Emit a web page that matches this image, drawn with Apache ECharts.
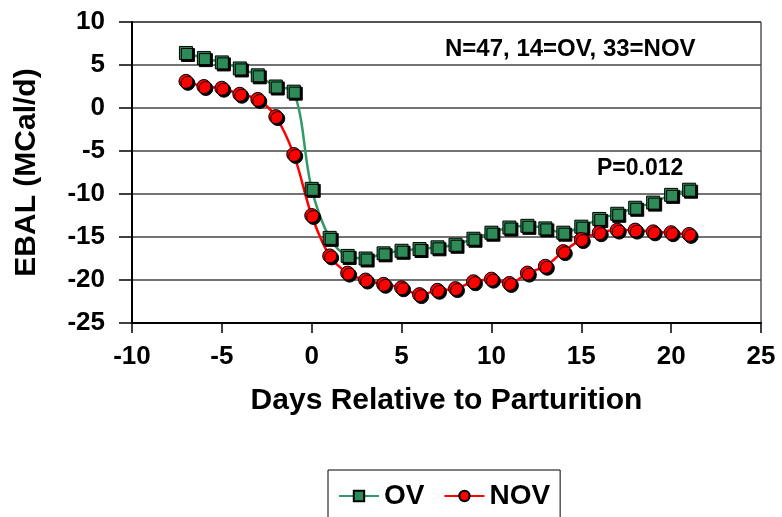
<!DOCTYPE html>
<html><head><meta charset="utf-8">
<script src="https://cdn.jsdelivr.net/npm/echarts@6/dist/echarts.min.js"></script>
<style>html,body{margin:0;padding:0;background:#fff}#c{width:782px;height:517px}</style>
</head><body><div id="c"></div>
<script>
const days = [-7,-6,-5,-4,-3,-2,-1,0,1,2,3,4,5,6,7,8,9,10,11,12,13,14,15,16,17,18,19,20,21];
const ovValues = [6.4,5.8,5.3,4.6,3.8,2.5,1.9,-9.4,-15.1,-17.2,-17.5,-16.9,-16.6,-16.4,-16.2,-15.9,-15.2,-14.5,-13.9,-13.7,-14.0,-14.5,-13.8,-12.9,-12.3,-11.6,-11.0,-10.1,-9.5];
const novValues = [3.1,2.5,2.3,1.6,1.0,-1.0,-5.4,-12.5,-17.2,-19.2,-20.0,-20.5,-20.9,-21.7,-21.2,-21.0,-20.2,-19.9,-20.4,-19.2,-18.4,-16.7,-15.3,-14.5,-14.2,-14.2,-14.4,-14.5,-14.7];
const xTicks = {min:-10, max:25, interval:5};
const yTicks = {min:-25, max:10, interval:5};
const noteN = 'N=47, 14=OV, 33=NOV';
const noteP = 'P=0.012';

const font = 'Liberation Sans, Arial, sans-serif';
const chart = echarts.init(document.getElementById('c'));
const pair = (xs, ys) => xs.map((x,i)=>[x, ys[i]]);
chart.setOption({
  animation:false,
  grid:{left:132, right:21, top:22, bottom:194, show:true, borderColor:'#000', borderWidth:1},
  xAxis:{type:'value', min:xTicks.min, max:xTicks.max, interval:xTicks.interval,
    name:'Days Relative to Parturition', nameLocation:'middle', nameGap:63,
    nameTextStyle:{fontFamily:font, fontWeight:'bold', fontSize:30, color:'#000'},
    axisLine:{show:true, onZero:false, lineStyle:{color:'#000', width:2}},
    axisTick:{show:true, inside:false, length:10, lineStyle:{color:'#000', width:1.5}},
    axisLabel:{fontFamily:font, fontWeight:'bold', fontSize:26, color:'#000', margin:21},
    splitLine:{show:false}},
  yAxis:{type:'value', min:yTicks.min, max:yTicks.max, interval:yTicks.interval,
    name:'EBAL (MCal/d)', nameLocation:'middle', nameGap:90, nameRotate:90,
    nameTextStyle:{fontFamily:font, fontWeight:'bold', fontSize:30, color:'#000'},
    axisLine:{show:true, onZero:false, lineStyle:{color:'#000', width:2}},
    axisTick:{show:true, inside:false, length:13, lineStyle:{color:'#000', width:1.5}},
    axisLabel:{fontFamily:font, fontWeight:'bold', fontSize:26, color:'#000', margin:27},
    splitLine:{show:true, lineStyle:{color:'#444', width:1.5}}},
  legend:{left:328, top:470, padding:[12,10,12,10], itemGap:19, itemWidth:40, itemHeight:13,
    borderColor:'#000', borderWidth:1,
    itemStyle:{shadowColor:'transparent', shadowOffsetX:0, shadowOffsetY:0},
    textStyle:{fontFamily:font, fontWeight:'bold', fontSize:28, color:'#000'},
    data:['OV','NOV']},
  graphic:[
    {type:'text', left:445, top:37, style:{text:noteN, fontFamily:font, fontWeight:'bold', fontSize:24, fill:'#000'}},
    {type:'text', left:597, top:157, style:{text:noteP, fontFamily:font, fontWeight:'bold', fontSize:23, fill:'#000'}}
  ],
  series:[
    {name:'OV', type:'line', data:pair(days, ovValues), smooth:0.35,
     symbol:'rect', symbolSize:13,
     lineStyle:{color:'#339966', width:2.5},
     itemStyle:{color:'#2e8b57', borderColor:'#000', borderWidth:1, shadowColor:'#000', shadowOffsetX:2, shadowOffsetY:2, shadowBlur:0}},
    {name:'NOV', type:'line', data:pair(days, novValues), smooth:0.35,
     symbol:'circle', symbolSize:14,
     lineStyle:{color:'#ff0000', width:2.5},
     itemStyle:{color:'#ff0000', borderColor:'#000', borderWidth:1, shadowColor:'#000', shadowOffsetX:2, shadowOffsetY:2, shadowBlur:0}}
  ]
});
</script></body></html>
